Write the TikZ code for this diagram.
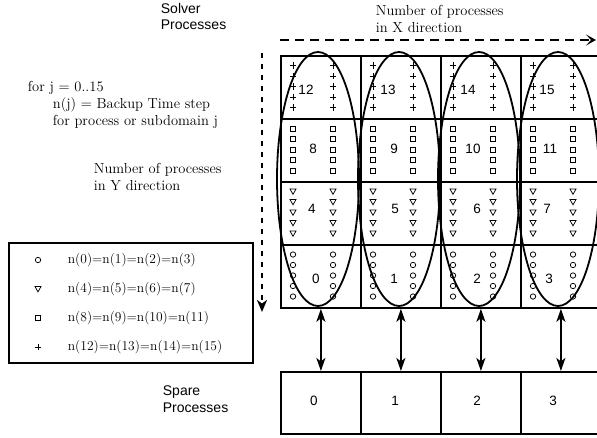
\documentclass[tikz,border=0pt]{standalone}
\usepackage{fontspec}
\newfontfamily\arialfont{Liberation Sans}
\usetikzlibrary{arrows.meta}

\begin{document}
\begin{tikzpicture}[x=1pt,y=-1pt,line width=1.8pt,
  sans/.style={font=\arialfont\fontsize{14}{16}\selectfont,inner sep=0pt,anchor=base west},
  num/.style={font=\arialfont\fontsize{13.5}{15}\selectfont,inner sep=0pt},
  serif/.style={font=\fontsize{14.5}{17}\selectfont,inner sep=0pt,anchor=base west},
  legtext/.style={font=\fontsize{13.5}{16}\selectfont,inner sep=0pt,anchor=west},
  cell/.style={draw,rectangle,minimum width=80pt,minimum height=63pt,inner sep=0pt,anchor=north west},
  spare/.style={draw,rectangle,minimum width=80pt,minimum height=62pt,inner sep=0pt,anchor=north west},
  symO/.pic={\draw[line width=.75pt] (0,0) circle (2.7);},
  symT/.pic={\draw[line width=.75pt] (-3,-2.4) -- (3,-2.4) -- (0,2.8) -- cycle;},
  symS/.pic={\draw[line width=.75pt] (-2.4,-2.4) rectangle (2.4,2.4);},
  symP/.pic={\draw[line width=.75pt] (-3.2,0) -- (3.2,0) (0,-3.2) -- (0,3.2);},
  swap/.style={{Stealth[length=13pt,width=9pt,inset=3.5pt]}-{Stealth[length=13pt,width=9pt,inset=3.5pt]}},
  dashx/.style={line width=2pt,dash pattern=on 9pt off 6pt,-{Stealth[length=10pt,width=11pt,inset=5pt]}},
  dashy/.style={line width=2.2pt,dash pattern=on 5pt off 6pt,-{Stealth[length=12pt,width=10pt,inset=3.5pt]}}]
\useasboundingbox (0,0) rectangle (597,437);
\foreach \c in {0,...,3}{\foreach \r in {0,...,3}{\pgfmathtruncatemacro\j{4*\r+\c}
  \node[cell] (c\j) at (280+80*\c,244-63*\r) {};}}
\foreach \c in {0,...,3}{\node[spare] (s\c) at (280+80*\c,371) {};}
\foreach \c in {0,...,3}{\foreach \k in {0,...,4}{
  \pic at (293+80*\c,65.5+10.5*\k) {symP};\pic at (333+80*\c,65.5+10.5*\k) {symP};
  \pic at (293+80*\c,128.5+10.5*\k) {symS};\pic at (333+80*\c,128.5+10.5*\k) {symS};
  \pic at (293+80*\c,191.5+10.5*\k) {symT};\pic at (333+80*\c,191.5+10.5*\k) {symT};
  \pic at (293+80*\c,254.5+10.5*\k) {symO};\pic at (333+80*\c,254.5+10.5*\k) {symO};}}
\foreach \j/\x/\y in {12/306/90,13/388/90,14/468/90,15/547/90,8/313/149,9/394/149,10/473/149,11/550/149,
  4/312/209,5/395/209,6/477/209,7/547/209,0/316/279,1/394/279,2/477/279,3/549/279}
  {\node[num] (n\j) at (\x,\y) {\j};}
\foreach \c/\x in {0/318,1/399,2/479,3/558}{\draw (\x,179) ellipse [x radius=41,y radius=127];}
\foreach \c/\x in {0/314,1/395,2/477,3/553}{\node[num] (sn\c) at (\x,401) {\c};}
\foreach \c in {0,...,3}{\draw[swap] (c\c.south) -- (s\c.north);}
\coordinate (xs) at (280,40);\coordinate (xe) at (596,40);\draw[dashx] (xs) -- (xe);
\coordinate (ys) at (262,53);\coordinate (ye) at (262,312);\draw[dashy] (ys) -- (ye);
\node[sans] (solver1) at (160,13.5) {Solver};\node[sans] (solver2) at (160,29.5) {Processes};
\node[sans] (spare1) at (162,395) {Spare};\node[sans] (spare2) at (162,412) {Processes};
\node[serif] (xdir1) at (375,15) {Number of processes};\node[serif] (xdir2) at (375,32) {in X direction};
\node[serif] (for1) at (27,91) {for j = 0..15};
\node[serif] (for2) at (52,108) {n(j) = Backup Time step};
\node[serif] (for3) at (52,125) {for process or subdomain j};
\node[serif] (ydir1) at (93,173) {Number of processes};\node[serif] (ydir2) at (93,190) {in Y direction};
\node[draw,line width=1.5pt,minimum width=244pt,minimum height=120pt,inner sep=0pt,anchor=north west] (legend) at (8,242) {};
\pic at (38,260) {symO};\pic at (38,289) {symT};\pic at (38,318) {symS};\pic at (38,347) {symP};
\node[legtext] (leg0) at (67,260) {n(0)=n(1)=n(2)=n(3)};
\node[legtext] (leg1) at (67,289) {n(4)=n(5)=n(6)=n(7)};
\node[legtext] (leg2) at (67,318) {n(8)=n(9)=n(10)=n(11)};
\node[legtext] (leg3) at (67,347) {n(12)=n(13)=n(14)=n(15)};
\end{tikzpicture}
\end{document}
